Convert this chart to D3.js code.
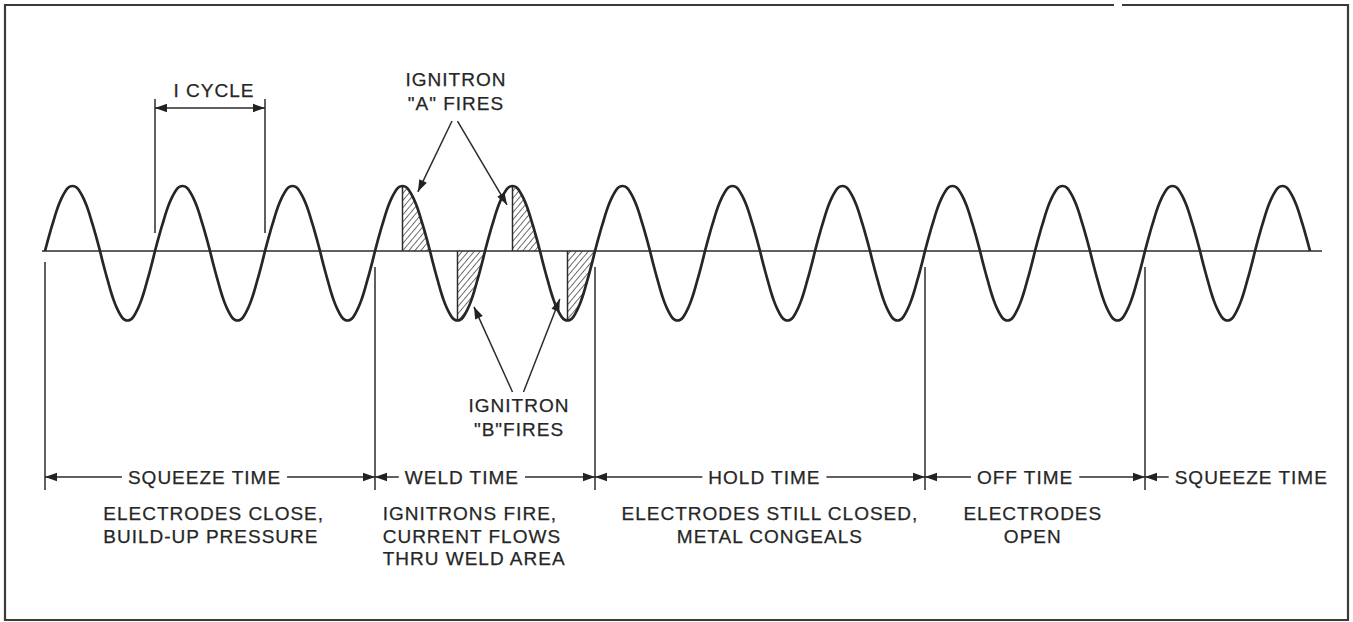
<!DOCTYPE html>
<html>
<head>
<meta charset="utf-8">
<script src="https://cdn.jsdelivr.net/npm/d3@7"></script>
<style>
body{margin:0;background:#ffffff;}
svg text{font-family:"Liberation Sans",Arial,sans-serif;font-size:19px;letter-spacing:1px;fill:#262626;stroke:#262626;stroke-width:0.25px;}
.frame{fill:none;stroke:#3a3a3a;stroke-width:2.2;}
.wave{fill:none;stroke:#262626;stroke-width:2.7;stroke-linejoin:round;}
.base{stroke:#2b2b2b;stroke-width:1.6;}
.mark{stroke:#2b2b2b;stroke-width:1.5;}
.dim{stroke:#2b2b2b;stroke-width:1.5;}
.head{fill:#222;}
.hatch-area{fill:url(#hatch);stroke:none;}
</style>
</head>
<body>
<svg id="chart"></svg>
<script>
// one half cycle of the supply voltage: phase within the half cycle, relative height
const halfCycleShape = [[0,0],[0.05,0.16],[0.1,0.31],[0.15,0.45],[0.2,0.59],[0.25,0.71],[0.3,0.81],[0.35,0.89],[0.4,0.955],[0.45,0.99],[0.5,1],
	[0.55,0.99],[0.6,0.955],[0.65,0.89],[0.7,0.81],[0.75,0.71],[0.8,0.59],[0.85,0.45],[0.9,0.31],[0.95,0.16],[1,0]];
// peak level of each half cycle, in order (11 1/2 cycles drawn)
const halfCycleLevels = [1,-1.07,1,-1.07,1,-1.07,1,-1.07,1,-1.07,1,-1.07,1,-1.07,1,-1.07,1,-1.07,1,-1.07,1,-1.07,1];
// half cycles in which an ignitron fires, and the phase at which it fires
const firings = [
	{half:6, from:0.5, tube:"A"},
	{half:7, from:0.5, tube:"B"},
	{half:8, from:0.5, tube:"A"},
	{half:9, from:0.5, tube:"B"}
];
// the welding sequence, in cycles
const stages = ["SQUEEZE TIME","WELD TIME","HOLD TIME","OFF TIME","SQUEEZE TIME"];
const stageStart = [0,3,5,8,10];
const stageEnd = [3,5,8,10,null];
const stageNotes = [
	["ELECTRODES CLOSE,","BUILD-UP PRESSURE"],
	["IGNITRONS FIRE,","CURRENT FLOWS","THRU WELD AREA"],
	["ELECTRODES STILL CLOSED,","METAL CONGEALS"],
	["ELECTRODES","OPEN"],
	[]
];
const cycleMark = [1,2];
// annotation callouts: label lines, where the leaders leave the label and where they point (cycles, level)
const calloutA = {lines:["IGNITRON","\"A\" FIRES"], from:[[3.70,2.0],[3.75,2.0]], to:[[3.39,0.91],[4.20,0.71]]};
const calloutB = {lines:["IGNITRON","\"B\"FIRES"], from:[[4.25,-2.17],[4.35,-2.17]], to:[[3.90,-0.86],[4.68,-0.74]]};

function renderChart(){
	let total_width = 1353;
	let total_height = 622;
	let svg = d3.select("#chart").attr("width",total_width).attr("height",total_height);

	let x = d3.scaleLinear().domain([0,11.5]).range([45,1310]);
	let y = d3.scaleLinear().domain([-1.07,1]).range([320.5,186]);

	let defs = svg.append("defs");
	defs.append("pattern")
		.attr("id","hatch")
		.attr("patternUnits","userSpaceOnUse")
		.attr("width",4.6).attr("height",4.6)
		.attr("patternTransform","rotate(40)")
		.append("line")
		.attr("x1",0).attr("y1",-1).attr("x2",0).attr("y2",6)
		.attr("stroke","#222").attr("stroke-width",1.3);

	// frame (with the small break at top right)
	svg.append("path")
		.attr("class","frame")
		.attr("d","M1114,5 L5,5 L5,620 L1348,620 L1348,5 L1122,5");

	// wave points
	let wave = [];
	halfCycleLevels.forEach((lvl,i)=>{
		halfCycleShape.forEach((p,j)=>{
			if(i>0 && j==0) return;
			wave.push({t:i*0.5 + p[0]*0.5, v:p[1]*lvl, half:i, phase:p[0]});
		});
	});

	// hatched firing areas
	let area = d3.area()
		.x(d=>x(d.t))
		.y0(y(0))
		.y1(d=>y(d.v))
		.curve(d3.curveMonotoneX);
	firings.forEach(f=>{
		let pts = wave.filter(d=>d.half==f.half && d.phase>=f.from);
		svg.append("path").datum(pts).attr("class","hatch-area").attr("d",area);
		svg.append("line").attr("class","mark")
			.attr("x1",x(pts[0].t)).attr("x2",x(pts[0].t))
			.attr("y1",y(0)).attr("y2",y(pts[0].v));
	});

	// zero line
	svg.append("line").attr("class","base")
		.attr("x1",x(0)-3).attr("x2",x(11.5)+12)
		.attr("y1",y(0)).attr("y2",y(0));

	let line = d3.line().x(d=>x(d.t)).y(d=>y(d.v)).curve(d3.curveMonotoneX);
	svg.append("path").datum(wave).attr("class","wave").attr("d",line);

	function arrowHead(x1,y1,x2,y2,len,half){
		let a = Math.atan2(y2-y1,x2-x1);
		let bx = x2 - len*Math.cos(a), by = y2 - len*Math.sin(a);
		let px = -Math.sin(a)*half, py = Math.cos(a)*half;
		svg.append("path").attr("class","head")
			.attr("d","M"+x2+","+y2+"L"+(bx+px)+","+(by+py)+"L"+(bx-px)+","+(by-py)+"Z");
	}
	function arrow(x1,y1,x2,y2){
		svg.append("line").attr("class","dim").attr("x1",x1).attr("y1",y1).attr("x2",x2).attr("y2",y2);
		arrowHead(x1,y1,x2,y2,12,4.2);
	}

	// 1 cycle dimension
	let cycTop = 99, cycBottom = 233, cycArrow = 108;
	cycleMark.forEach(c=>{
		svg.append("line").attr("class","mark")
			.attr("x1",x(c)).attr("x2",x(c)).attr("y1",cycTop).attr("y2",cycBottom);
	});
	let cMid = (x(cycleMark[0])+x(cycleMark[1]))/2;
	arrow(cMid,cycArrow,x(cycleMark[0]),cycArrow);
	arrow(cMid,cycArrow,x(cycleMark[1]),cycArrow);
	svg.append("text").attr("x",cMid+4).attr("y",97).attr("text-anchor","middle").text("I CYCLE");

	// callouts
	function callout(c,labelX,labelY){
		c.lines.forEach((t,i)=>{
			svg.append("text").attr("x",labelX).attr("y",labelY+i*24).attr("text-anchor","middle").text(t);
		});
		c.from.forEach((f,i)=>{
			arrow(x(f[0]),y(f[1]),x(c.to[i][0]),y(c.to[i][1]));
		});
	}
	callout(calloutA,456,86);
	callout(calloutB,519,412);

	// stage boundaries and dimension arrows
	let boundTop = 267, boundBottom = 490, dimY = 477, labelY = 484;
	let labelAt = [1.45,3.79,6.54,8.91,10.27];
	let labelAnchor = ["middle","middle","middle","middle","start"];
	let noteAt = [0.53,3.07,6.59,8.98,0];
	let noteAnchor = ["start","start","middle","middle","middle"];
	let bounds = Array.from(new Set(stageStart.concat(stageEnd.filter(d=>d!=null))));
	bounds.forEach(b=>{
		svg.append("line").attr("class","mark")
			.attr("x1",x(b)).attr("x2",x(b))
			.attr("y1",b==0?262:boundTop).attr("y2",boundBottom);
	});
	stages.forEach((s,i)=>{
		let t = svg.append("text")
			.attr("x",x(labelAt[i])).attr("y",labelY)
			.attr("text-anchor",labelAnchor[i]).text(s);
		let bb = t.node().getBBox();
		let gap = 6;
		let x0 = x(stageStart[i]);
		arrow(bb.x-gap,dimY,x0,dimY);
		if(stageEnd[i]!=null){
			arrow(bb.x+bb.width+gap,dimY,x(stageEnd[i]),dimY);
		}
		stageNotes[i].forEach((n,j)=>{
			svg.append("text")
				.attr("x",x(noteAt[i])).attr("y",520+j*22.5)
				.attr("text-anchor",noteAnchor[i]).text(n);
		});
	});
}
renderChart();
</script>
</body>
</html>
